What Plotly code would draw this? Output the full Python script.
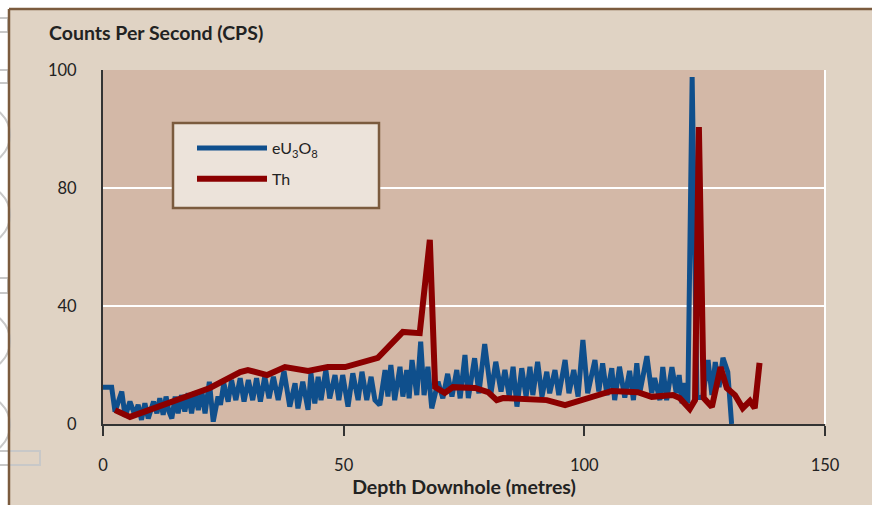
import plotly.graph_objects as go

# ---- data ----
u_depth = [0, 1.8, 2.5, 3.9, 4.6, 5.6, 6.6, 7.3, 8.0, 8.7, 9.4, 10.5, 11.2, 11.8, 12.5, 13.1, 13.7,
           14.3, 15.0, 15.6, 16.3, 17.0, 17.7, 18.4, 19.1, 19.8, 20.5, 21.2, 22.1, 22.9, 23.9, 24.4,
           25.1, 26.0, 26.7, 27.6, 28.5, 29.3, 30.2, 31.1, 31.9, 32.7, 33.6, 34.5, 35.4, 36.4, 37.6,
           38.8, 39.9, 40.5, 41.5, 42.6, 43.2, 44.0, 44.7, 45.3, 46.3, 47.1, 48.2, 49.0, 49.8, 50.9,
           51.9, 53.0, 53.8, 54.8, 55.7, 56.5, 57.5, 58.6, 59.2, 59.8, 60.6, 61.7, 62.3, 63.1, 63.6,
           64.2, 65.2, 66.0, 66.7, 67.5, 68.3, 69.6, 70.6, 71.6, 72.5, 73.5, 74.2, 75.2, 75.9, 77.2,
           78.1, 79.3, 80.6, 81.6, 82.7, 83.5, 84.4, 85.2, 86.0, 87.0, 87.9, 88.7, 89.3, 90.3, 91.2,
           92.2, 92.8, 93.9, 94.7, 96.0, 96.8, 97.8, 98.7, 99.7, 100.7, 102.2, 103.0, 103.8, 104.7,
           105.7, 106.3, 107.3, 108.4, 109.4, 110.2, 110.9, 111.5, 113.0, 114.0, 114.6, 115.7, 116.3,
           117.1, 118.2, 119.1, 119.7, 120.3, 120.9, 121.5, 122.4, 123.4, 124.6, 125.7, 126.5, 127.2,
           128.0, 128.8, 129.8, 130.6]
u_cps = [12.5, 12.5, 4.2, 11, 2.5, 7.6, 3.1, 6.5, 1.4, 7, 1.9, 7.6, 3.6, 8.7, 3.1, 9.3, 4.2,
         1.9, 9.3, 3.6, 9.8, 4.2, 10.4, 3.6, 11, 4.7, 11.5, 3.6, 14.3, 0.8, 9.3, 6.5,
         13.8, 7.6, 14.9, 8.1, 15.5, 7.6, 14.9, 8.1, 15.5, 7.6, 16, 8.7, 16, 8.1, 18,
         5.9, 13.8, 5.3, 14.3, 4.8, 17.2, 7, 16, 8.1, 18.3, 8.7, 16.6, 8.1, 16.6, 5.9,
         17.2, 8.1, 17.7, 8.1, 16, 8.1, 6.4, 18.3, 9.3, 20, 8.1, 19.4, 9.3, 18.3, 8.7,
         21.7, 9.8, 27.9, 9.8, 19.4, 5.3, 14.3, 8.7, 17, 9.3, 18.3, 8.7, 23.4, 8.8, 22.3,
         10.4, 27.1, 10.4, 21.1, 11, 18.3, 9.3, 19.4, 5.9, 18.9, 9.3, 19.4, 9.8, 21.1, 9.3,
         17.7, 10.4, 18.3, 9.8, 21.7, 10.4, 18.3, 9.3, 28.5, 10.4, 21.7, 11, 20.6, 9.8,
         18.9, 8.1, 19.4, 9, 18, 8.1, 20.6, 10.4, 23, 10.5, 15.6, 8.1, 19.3,
         8.1, 19.3, 10.5, 16.6, 7, 13.9, 7, 117.6, 9, 9, 21.7, 9.8, 21,
         12.5, 22.4, 17.6, 0]

th_depth = [2.5, 5.6, 22.2, 28.5, 30.1, 34.1, 37.8, 42.6, 46.7, 50.3, 57.1, 62.3, 65.8, 67.9,
            69.0, 71.0, 72.7, 77.3, 80.0, 81.8, 83.1, 92.2, 96.0, 100.5, 105.7, 111.1, 114.0,
            118.4, 119.8, 121.9, 123.0, 123.8, 124.8, 126.5, 128.3, 129.6, 131.3, 132.9, 134.4,
            135.4, 136.4]
th_cps = [4.7, 2.4, 12.2, 17.6, 18.3, 16.6, 19.3, 18.0, 19.3, 19.3, 22.4, 31.2, 30.8, 62.4,
          12.5, 10.5, 12.5, 12.2, 10.8, 8.1, 8.8, 8.1, 6.4, 8.8, 11.2, 10.8, 9.2,
          9.8, 8.8, 5.1, 8.1, 100.7, 8.8, 5.8, 19.3, 12.2, 9.8, 5.4, 7.8,
          5.4, 20.7]

x_ticks = [0, 50, 100, 150]
y_tickvals = [0, 40, 80, 120]
y_ticktext = ["0", "40", "80", "100"]

# ---- layout helpers (pixel -> paper) ----
W, H = 872, 505
L, R, T, B = 103, 47, 70, 81
PW, PH = W - L - R, H - T - B


def px(x):
    return (x - L) / PW


def py(y):
    return (H - B - y) / PH


FONT = "Lato, 'Open Sans', sans-serif"
BEIGE = "#e0d3c4"
PLOTBG = "#d3b8a7"
BROWN = "#7b5b3e"

fig = go.Figure()
fig.add_trace(go.Scatter(x=u_depth, y=u_cps, mode="lines", name="eU<sub>3</sub>O<sub>8</sub>",
                         line=dict(color="#0f4f8c", width=5), legendgroup="u"))
fig.add_trace(go.Scatter(x=th_depth, y=th_cps, mode="lines", name="Th",
                         line=dict(color="#8b0000", width=6), legendgroup="th"))

shapes = []
# white page strips on left / top and the brown frame of the panel
shapes.append(dict(type="rect", xref="paper", yref="paper", x0=px(-5), x1=px(9), y0=py(600), y1=py(-5),
                   fillcolor="white", line=dict(width=0), layer="below"))
shapes.append(dict(type="rect", xref="paper", yref="paper", x0=px(-5), x1=px(900), y0=py(9), y1=py(-5),
                   fillcolor="white", line=dict(width=0), layer="below"))
for cy in [135, 215, 341, 425]:
    shapes.append(dict(type="circle", xref="paper", yref="paper", x0=px(-50), x1=px(10),
                       y0=py(cy + 30), y1=py(cy - 30), line=dict(color="#c8c8c8", width=2),
                       layer="below"))
for (a, b, c, d) in [(-5, 18, 8, 32), (-5, 70, 8, 83), (-5, 278, 8, 293), (-5, 451, 40, 465)]:
    shapes.append(dict(type="rect", xref="paper", yref="paper", x0=px(a), x1=px(c), y0=py(d), y1=py(b),
                       line=dict(color="#c8c8c8", width=2), fillcolor="rgba(0,0,0,0)", layer="above"))
shapes.append(dict(type="line", xref="paper", yref="paper", x0=px(9), x1=px(9), y0=py(9), y1=py(600),
                   line=dict(color=BROWN, width=2.5)))
shapes.append(dict(type="line", xref="paper", yref="paper", x0=px(9), x1=px(900), y0=py(9), y1=py(9),
                   line=dict(color=BROWN, width=2.5)))
# right white edge of the plot area
shapes.append(dict(type="line", xref="paper", yref="paper", x0=1, x1=1, y0=0, y1=1,
                   line=dict(color="white", width=2), layer="below"))
# legend box
shapes.append(dict(type="rect", xref="paper", yref="paper", x0=px(173), x1=px(379), y0=py(208), y1=py(123),
                   fillcolor="#ece3da", line=dict(color=BROWN, width=2.5), layer="above"))

fig.update_layout(
    width=W, height=H,
    margin=dict(l=L, r=R, t=T, b=B, pad=0),
    paper_bgcolor=BEIGE, plot_bgcolor=PLOTBG,
    font=dict(family=FONT, size=16, color="#222"),
    shapes=shapes,
    showlegend=True,
    legend=dict(x=px(192), y=py(131), xanchor="left", yanchor="top",
                bgcolor="rgba(0,0,0,0)", borderwidth=0, itemwidth=70,
                tracegroupgap=7, font=dict(size=16, color="#222")),
    annotations=[dict(text="<b>Counts Per Second (CPS)</b>", xref="paper", yref="paper",
                      x=px(47), y=py(32), xanchor="left", yanchor="middle", showarrow=False,
                      font=dict(size=19.5, color="#222"))],
    xaxis=dict(range=[0, 150], tickvals=x_ticks, ticks="outside", ticklen=10, tickwidth=2,
               tickcolor="#333", showline=True, linecolor="#333", linewidth=2, showgrid=False,
               zeroline=False, ticklabelstandoff=15, tickfont=dict(size=16.5),
               title=dict(text="<b>Depth Downhole (metres)</b>", font=dict(size=19.5), standoff=2)),
    yaxis=dict(range=[0, 120], tickvals=y_tickvals, ticktext=y_ticktext, ticks="",
               showline=True, linecolor="#333", linewidth=2, showgrid=True, gridcolor="white",
               gridwidth=2, zeroline=False, ticklabelstandoff=21, tickfont=dict(size=16.5)),
)

fig.write_html("out.html", config={"displayModeBar": False},
               post_script="document.body.style.margin='0';document.body.style.overflow='hidden';")
